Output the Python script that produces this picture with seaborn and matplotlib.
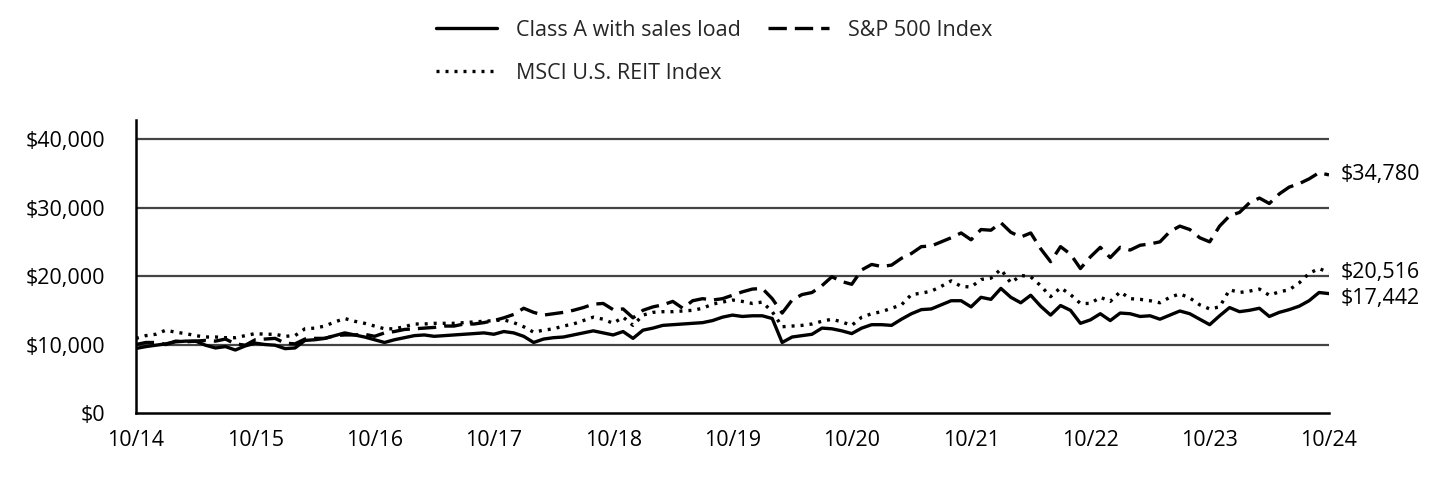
import numpy as np
import pandas as pd
import matplotlib
matplotlib.use("Agg")
import matplotlib.pyplot as plt
import seaborn as sns

sns.set_theme(style="white")
plt.rcParams['font.family'] = ['Open Sans', 'DejaVu Sans']

# Monthly values 10/14 .. 10/24 (121 points)
class_a = [9425, 9700, 9900, 10100, 10400, 10500, 10500, 9900, 9500, 9700, 9200, 9800,
           10200, 10000, 9900, 9400, 9500, 10600, 10700, 10900, 11300, 11700, 11400, 11100,
           10700, 10300, 10700, 11000, 11300, 11400, 11200, 11300, 11400, 11500, 11600, 11700,
           11500, 11900, 11700, 11200, 10300, 10800, 11000, 11100, 11400, 11700, 12000, 11700,
           11400, 11900, 10900, 12100, 12400, 12800, 12900, 13000, 13100, 13200, 13500, 14000,
           14300, 14100, 14200, 14200, 13800, 10300, 11100, 11300, 11500, 12400, 12300, 12000,
           11600, 12400, 12900, 12900, 12800, 13700, 14500, 15100, 15200, 15800, 16400, 16400,
           15500, 16900, 16600, 18200, 16900, 16100, 17200, 15600, 14300, 15700, 15000, 13100,
           13600, 14500, 13500, 14600, 14500, 14100, 14200, 13700, 14300, 14900, 14500, 13700,
           12900, 14200, 15400, 14800, 15000, 15300, 14100, 14700, 15100, 15600, 16400, 17600,
           17442]
sp500 = [10000, 10300, 10300, 10000, 10500, 10400, 10500, 10600, 10500, 10800, 10100, 9900,
         10700, 10800, 10900, 10200, 10100, 10800, 10900, 10900, 11300, 11400, 11400, 11500,
         11200, 11700, 11900, 12200, 12300, 12400, 12500, 12700, 12700, 13000, 13000, 13200,
         13500, 13900, 14400, 15300, 14700, 14300, 14500, 14700, 15000, 15400, 15900, 16000,
         15100, 15200, 13900, 15000, 15500, 15800, 16300, 15300, 16400, 16700, 16500, 16700,
         17200, 17700, 18100, 18200, 16700, 14600, 16500, 17300, 17600, 18600, 19900, 19200,
         18800, 20900, 21700, 21400, 21600, 22600, 23300, 24300, 24400, 25000, 25600, 26300,
         25300, 26800, 26700, 27800, 26400, 25700, 26300, 24000, 22100, 24300, 23200, 21100,
         22800, 24200, 22700, 24200, 23800, 24500, 24700, 25000, 26500, 27300, 26800, 25600,
         25000, 27300, 28800, 29300, 30700, 31400, 30600, 32000, 33000, 33500, 34200, 35100,
         34780]
reit = [10900, 11300, 11500, 12100, 11800, 11600, 11300, 11100, 11100, 11000, 11000, 11300,
        11600, 11500, 11500, 11200, 11300, 12300, 12400, 12700, 13300, 13800, 13400, 13100,
        12700, 12300, 12300, 12600, 13000, 13000, 13100, 13100, 13100, 13200, 13300, 13400,
        13500, 13600, 13200, 12600, 11800, 12100, 12300, 12700, 13000, 13500, 14000, 13700,
        13100, 14000, 12800, 14300, 14700, 14800, 14800, 14900, 15000, 15300, 15900, 16200,
        16500, 16300, 16000, 16200, 14800, 12600, 12700, 12800, 13000, 13400, 13700, 13300,
        12800, 14000, 14500, 14800, 15300, 15800, 17300, 17500, 17800, 18500, 19300, 18500,
        18400, 19500, 19700, 21000, 19000, 20100, 19900, 18600, 17000, 18300, 17300, 16000,
        16000, 16900, 16300, 17700, 16700, 16600, 16400, 16100, 16900, 17400, 16800, 15800,
        15200, 15500, 18000, 17600, 17800, 18100, 17200, 17700, 18000, 19000, 20400, 21100,
        20516]
series_names = ["Class A with sales load", "S&P 500 Index", "MSCI U.S. REIT Index"]
tick_labels = ["10/14", "10/15", "10/16", "10/17", "10/18", "10/19",
               "10/20", "10/21", "10/22", "10/23", "10/24"]
end_labels = ["$17,442", "$34,780", "$20,516"]
y_ticks = [0, 10000, 20000, 30000, 40000]
y_tick_labels = ["$0", "$10,000", "$20,000", "$30,000", "$40,000"]

months = np.arange(len(class_a))
df = pd.DataFrame({"month": np.tile(months, 3),
                   "value": class_a + sp500 + reit,
                   "series": np.repeat(series_names, len(months))})

FS = 15.5
fig = plt.figure(figsize=(14.4, 4.8), dpi=100)
ax = fig.add_axes([0.0944, 0.1396, 0.9229 - 0.0944, 0.75 - 0.1396])

for y in y_ticks[1:]:
    ax.axhline(y, color="#444444", lw=1.6, zorder=1)

styles = {series_names[0]: "-",
          series_names[1]: (0, (5.5, 2.4)),
          series_names[2]: (0, (0.9, 1.8))}
for name in series_names:
    sub = df[df.series == name]
    sns.lineplot(data=sub, x="month", y="value", ax=ax, color="black", lw=2.4,
                 linestyle=styles[name], label=name, zorder=3,
                 dash_capstyle="butt")

ax.set_xlim(0, 120)
ax.set_ylim(0, 42800)
ax.set_xticks(np.arange(0, 121, 12))
ax.set_xticklabels(tick_labels)
ax.set_yticks(y_ticks)
ax.set_yticklabels(y_tick_labels)
ax.tick_params(axis="both", length=0, labelsize=FS, colors="black")
ax.tick_params(axis="x", pad=12)
ax.tick_params(axis="y", pad=22)
ax.set_xlabel("")
ax.set_ylabel("")
for s in ["top", "right"]:
    ax.spines[s].set_visible(False)
for s in ["left", "bottom"]:
    ax.spines[s].set_color("black")
    ax.spines[s].set_linewidth(1.8)

# end labels
ends = [class_a[-1], sp500[-1], reit[-1]]
offsets = [-3.3, 0, 0]
for v, lab, off in zip(ends, end_labels, offsets):
    ax.annotate(lab, xy=(120, v), xytext=(8.5, off), textcoords="offset points",
                va="center", ha="left", fontsize=FS, color="black",
                annotation_clip=False)

handles, labels = ax.get_legend_handles_labels()
ax.get_legend().remove()
order = [0, 2, 1]  # column-major fill -> row 1: Class A, S&P; row 2: REIT
fig.legend([handles[i] for i in order], [labels[i] for i in order],
           loc="upper left", bbox_to_anchor=(436 / 1440, 1 - 20 / 480),
           ncol=2, frameon=False, fontsize=FS, handlelength=2.85, handletextpad=0.85,
           columnspacing=1.27, labelspacing=1.0, borderpad=0, borderaxespad=0)

fig.savefig("out.png", dpi=100)
